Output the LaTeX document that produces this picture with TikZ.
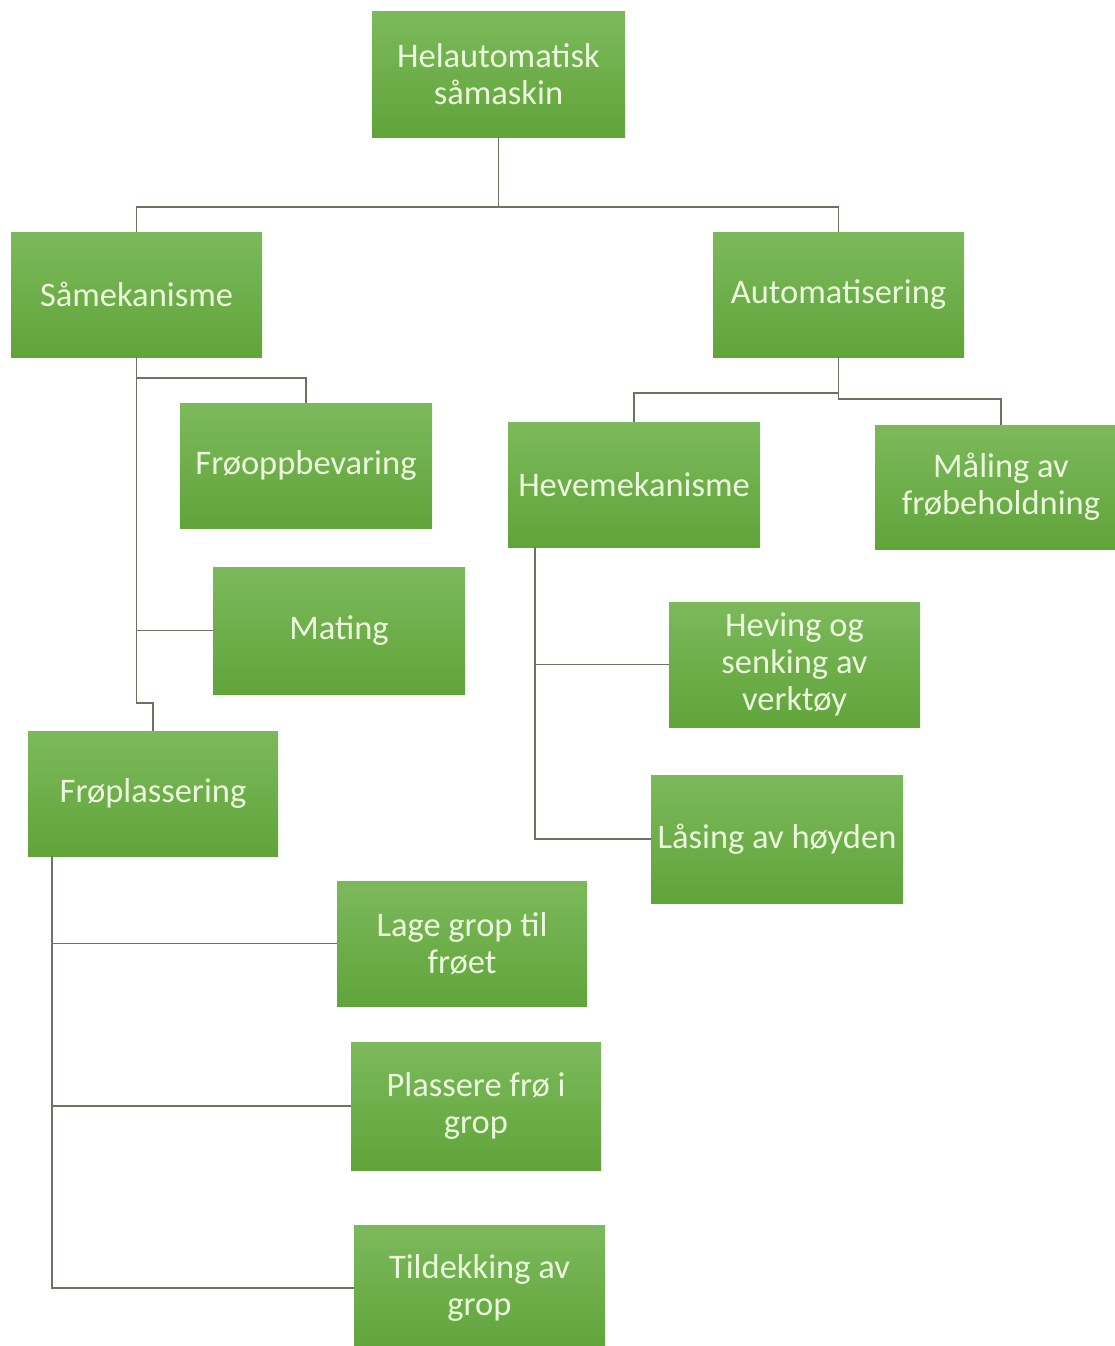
\documentclass[tikz,border=0pt]{standalone}
\usepackage{fontspec}
\usetikzlibrary{calc}
\setmainfont{Carlito}
\definecolor{gtop}{HTML}{7CB95B}
\definecolor{gbot}{HTML}{60A43A}
\definecolor{txt}{HTML}{ECF8DE}
\definecolor{lin}{HTML}{6A7560}
\tikzset{
  box/.style={rectangle, inner sep=0pt, top color=gtop, bottom color=gbot, draw=none,
    text=txt, align=center, font=\fontsize{34.5}{37}\selectfont,
    minimum width=251pt, minimum height=125pt},
  conn/.style={draw=lin, line width=1.5pt}
}
\begin{document}
\begin{tikzpicture}[x=1pt,y=1pt]
\useasboundingbox (0,0) rectangle (1115,-1346);
\begin{scope}
\clip (0,0) rectangle (1115,-1346);
% nodes
\node[box, minimum width=253pt] (root) at (498.5,-74.5) {Helautomatisk\\såmaskin};
\node[box] (sam) at (136.5,-294.5) {Såmekanisme};
\node[box] (aut) at (838.5,-294.5) {Automatisering};
\node[box, minimum width=252pt] (froopp) at (306,-465.5) {Frøoppbevaring};
\node[box, minimum width=252pt, minimum height=127pt] (mating) at (339,-630.5) {Mating};
\node[box, minimum width=250pt] (frpl) at (153,-793.5) {Frøplassering};
\node[box, minimum width=252pt] (heve) at (634,-484.5) {Hevemekanisme};
\node[box, minimum width=252pt, minimum height=124pt] (maling) at (1001,-487) {Måling av\\frøbeholdning};
\node[box] (heving) at (794.5,-664.5) {Heving og\\senking av\\verktøy};
\node[box, minimum width=252pt, minimum height=128pt] (lasing) at (777,-839) {Låsing av høyden};
\node[box, minimum width=250pt] (lage) at (462,-943.5) {Lage grop til\\frøet};
\node[box, minimum width=250pt, minimum height=128pt] (plassere) at (476,-1106) {Plassere frø i\\grop};
\node[box, minimum height=126pt] (tild) at (479.5,-1288) {Tildekking av\\grop};
% junctions
\coordinate (j1) at ($(root.south)+(0,-70)$);
\coordinate (j2) at ($(sam.south)+(0,-21)$);
\coordinate (j4) at ($(sam.south)+(0,-346)$);
\coordinate (j5) at ($(aut.south)+(0,-36)$);
\coordinate (j6) at ($(aut.south)+(0,-42)$);
\coordinate (h0) at ($(heve.south west)+(27,0)$);
\coordinate (f0) at ($(frpl.south west)+(24,0)$);
% connectors
\draw[conn] (root.south) -- (j1) -| (sam.north);
\draw[conn] (j1) -| (aut.north);
\draw[conn] (sam.south) -- (j2) -| (froopp.north);
\draw[conn] (j2) -- (j4) -| (frpl.north);
\draw[conn] (mating.west) -- (mating.west -| sam.south);
\draw[conn] (aut.south) -- (j5) -| (heve.north);
\draw[conn] (j5) -- (j6) -| (maling.north);
\draw[conn] (h0) |- (lasing.west);
\draw[conn] (heving.west) -- (heving.west -| h0);
\draw[conn] (f0) |- (tild.west);
\draw[conn] (lage.west) -- (lage.west -| f0);
\draw[conn] (plassere.west) -- (plassere.west -| f0);
\end{scope}
\end{tikzpicture}
\end{document}
